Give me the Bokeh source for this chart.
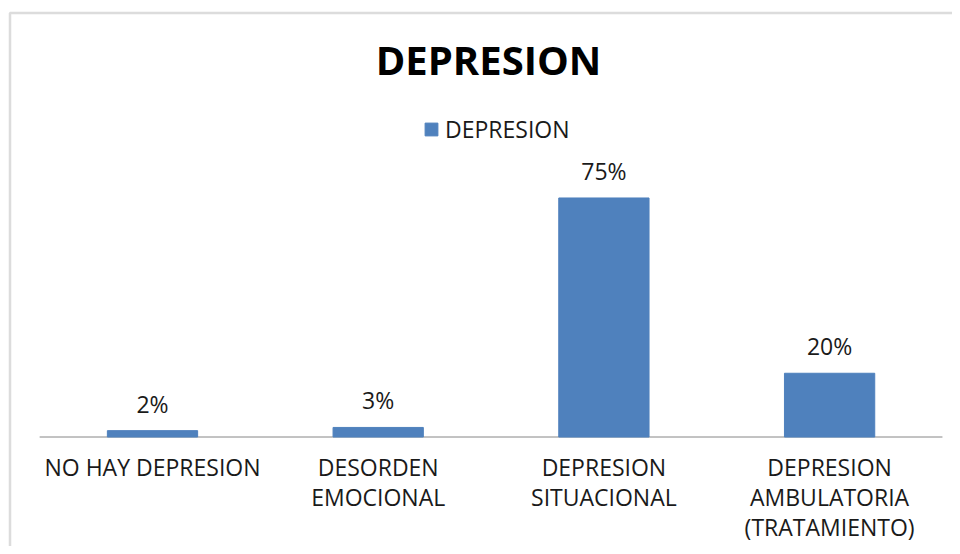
from bokeh.plotting import figure
from bokeh.models import Range1d, Label, BoxAnnotation, Legend, LegendItem, ColumnDataSource
from bokeh.core.properties import value
from bokeh.embed import file_html
from bokeh.resources import INLINE

# ---- data ----
categories = ["NO HAY DEPRESION", "DESORDEN EMOCIONAL", "DEPRESION SITUACIONAL",
              "DEPRESION AMBULATORIA (TRATAMIENTO)"]
tick_labels = ["NO HAY DEPRESION", "DESORDEN\nEMOCIONAL", "DEPRESION\nSITUACIONAL",
               "DEPRESION\nAMBULATORIA\n(TRATAMIENTO)"]
values = [2, 3, 75, 20]
series_name = "DEPRESION"
chart_title = "DEPRESION"

value_labels = [f"{v}%" for v in values]
positions = list(range(len(categories)))
zeros = [0] * len(categories)
src = ColumnDataSource(dict(x=positions, cat=categories, tick=tick_labels,
                            val=values, lab=value_labels, zero=zeros))

FONT = "Open Sans"
BLUE = "#4F81BD"
TEXT = "#1a1a1a"

W, H = 952, 546
PX_PER_CAT = 225.7      # horizontal scale (px per category)
PX_PER_PCT = 3.187      # vertical scale (px per percent)
X0_PX = 152             # pixel position of first category centre
BASE_PX = 436.5         # pixel position of the baseline

x_start = -X0_PX / PX_PER_CAT
y_end = BASE_PX / PX_PER_PCT
p = figure(
    width=W, height=H,
    x_range=Range1d(x_start, x_start + W / PX_PER_CAT),
    y_range=Range1d(y_end - H / PX_PER_PCT, y_end),
    output_backend="svg", toolbar_location=None,
    x_axis_location=None, y_axis_location=None,
    min_border=0, min_border_left=0, min_border_right=0,
    min_border_top=0, min_border_bottom=0,
)
p.outline_line_color = None
p.grid.visible = False
p.background_fill_color = "white"
p.border_fill_color = "white"

# baseline (category axis line)
n = len(categories)
p.segment(x0=[-0.5], y0=[0], x1=[n - 0.5], y1=[0], line_color="#868686", line_width=1)

r = p.vbar(x="x", top="val", width=0.4, source=src, fill_color=BLUE, line_color=BLUE)

# value labels
p.text(x="x", y="val", text="lab", source=src, text_align="center",
       text_baseline="alphabetic", y_offset=-27, text_font=value(FONT),
       text_font_size="23px", text_color=TEXT)

# category labels
p.text(x="x", y="zero", text="tick", source=src, text_align="center",
       text_baseline="top", y_offset=14, text_font=value(FONT),
       text_font_size="23px", text_color=TEXT, text_line_height=0.93)

legend = Legend(items=[LegendItem(label=series_name, renderers=[r])],
                location=(423, 401), padding=0, margin=0, spacing=0,
                glyph_width=16, glyph_height=16, label_standoff=6, label_height=16,
                border_line_color=None, background_fill_alpha=0,
                label_text_font=FONT, label_text_font_size="23px",
                label_text_color=TEXT)
p.add_layout(legend, "center")

title = Label(x=488, y=487, x_units="screen", y_units="screen", text=chart_title,
              text_align="center", text_baseline="alphabetic", text_font=FONT,
              text_font_size="40px", text_font_style="bold", text_color="black")
p.add_layout(title)

frame_box = BoxAnnotation(left=9.5, right=2000, top=H - 12.5, bottom=-300,
                          left_units="screen", right_units="screen",
                          top_units="screen", bottom_units="screen",
                          fill_alpha=0, line_color="#8c8c8c", line_width=2.5)
p.add_layout(frame_box)

open("out.html", "w").write(file_html(p, INLINE))
